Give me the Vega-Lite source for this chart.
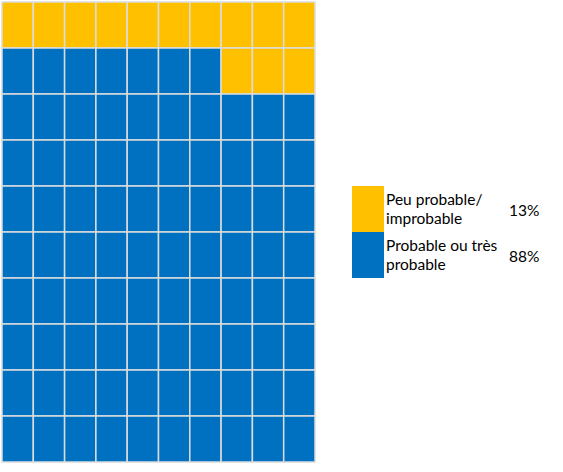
{
  "$schema": "https://vega.github.io/schema/vega-lite/v6.json",
  "padding": {"left": 1, "top": 1, "right": 0, "bottom": 0},
  "spacing": 36,
  "background": "white",
  "config": {"view": {"stroke": null}, "font": "Lato"},
  "datasets": {
    "cells": [
      {"c":1,"r":1,"k":"Peu"},{"c":2,"r":1,"k":"Peu"},{"c":3,"r":1,"k":"Peu"},{"c":4,"r":1,"k":"Peu"},{"c":5,"r":1,"k":"Peu"},{"c":6,"r":1,"k":"Peu"},{"c":7,"r":1,"k":"Peu"},{"c":8,"r":1,"k":"Peu"},{"c":9,"r":1,"k":"Peu"},{"c":10,"r":1,"k":"Peu"},
      {"c":1,"r":2,"k":"Prob"},{"c":2,"r":2,"k":"Prob"},{"c":3,"r":2,"k":"Prob"},{"c":4,"r":2,"k":"Prob"},{"c":5,"r":2,"k":"Prob"},{"c":6,"r":2,"k":"Prob"},{"c":7,"r":2,"k":"Prob"},{"c":8,"r":2,"k":"Peu"},{"c":9,"r":2,"k":"Peu"},{"c":10,"r":2,"k":"Peu"},
      {"c":1,"r":3,"k":"Prob"},{"c":2,"r":3,"k":"Prob"},{"c":3,"r":3,"k":"Prob"},{"c":4,"r":3,"k":"Prob"},{"c":5,"r":3,"k":"Prob"},{"c":6,"r":3,"k":"Prob"},{"c":7,"r":3,"k":"Prob"},{"c":8,"r":3,"k":"Prob"},{"c":9,"r":3,"k":"Prob"},{"c":10,"r":3,"k":"Prob"},
      {"c":1,"r":4,"k":"Prob"},{"c":2,"r":4,"k":"Prob"},{"c":3,"r":4,"k":"Prob"},{"c":4,"r":4,"k":"Prob"},{"c":5,"r":4,"k":"Prob"},{"c":6,"r":4,"k":"Prob"},{"c":7,"r":4,"k":"Prob"},{"c":8,"r":4,"k":"Prob"},{"c":9,"r":4,"k":"Prob"},{"c":10,"r":4,"k":"Prob"},
      {"c":1,"r":5,"k":"Prob"},{"c":2,"r":5,"k":"Prob"},{"c":3,"r":5,"k":"Prob"},{"c":4,"r":5,"k":"Prob"},{"c":5,"r":5,"k":"Prob"},{"c":6,"r":5,"k":"Prob"},{"c":7,"r":5,"k":"Prob"},{"c":8,"r":5,"k":"Prob"},{"c":9,"r":5,"k":"Prob"},{"c":10,"r":5,"k":"Prob"},
      {"c":1,"r":6,"k":"Prob"},{"c":2,"r":6,"k":"Prob"},{"c":3,"r":6,"k":"Prob"},{"c":4,"r":6,"k":"Prob"},{"c":5,"r":6,"k":"Prob"},{"c":6,"r":6,"k":"Prob"},{"c":7,"r":6,"k":"Prob"},{"c":8,"r":6,"k":"Prob"},{"c":9,"r":6,"k":"Prob"},{"c":10,"r":6,"k":"Prob"},
      {"c":1,"r":7,"k":"Prob"},{"c":2,"r":7,"k":"Prob"},{"c":3,"r":7,"k":"Prob"},{"c":4,"r":7,"k":"Prob"},{"c":5,"r":7,"k":"Prob"},{"c":6,"r":7,"k":"Prob"},{"c":7,"r":7,"k":"Prob"},{"c":8,"r":7,"k":"Prob"},{"c":9,"r":7,"k":"Prob"},{"c":10,"r":7,"k":"Prob"},
      {"c":1,"r":8,"k":"Prob"},{"c":2,"r":8,"k":"Prob"},{"c":3,"r":8,"k":"Prob"},{"c":4,"r":8,"k":"Prob"},{"c":5,"r":8,"k":"Prob"},{"c":6,"r":8,"k":"Prob"},{"c":7,"r":8,"k":"Prob"},{"c":8,"r":8,"k":"Prob"},{"c":9,"r":8,"k":"Prob"},{"c":10,"r":8,"k":"Prob"},
      {"c":1,"r":9,"k":"Prob"},{"c":2,"r":9,"k":"Prob"},{"c":3,"r":9,"k":"Prob"},{"c":4,"r":9,"k":"Prob"},{"c":5,"r":9,"k":"Prob"},{"c":6,"r":9,"k":"Prob"},{"c":7,"r":9,"k":"Prob"},{"c":8,"r":9,"k":"Prob"},{"c":9,"r":9,"k":"Prob"},{"c":10,"r":9,"k":"Prob"},
      {"c":1,"r":10,"k":"Prob"},{"c":2,"r":10,"k":"Prob"},{"c":3,"r":10,"k":"Prob"},{"c":4,"r":10,"k":"Prob"},{"c":5,"r":10,"k":"Prob"},{"c":6,"r":10,"k":"Prob"},{"c":7,"r":10,"k":"Prob"},{"c":8,"r":10,"k":"Prob"},{"c":9,"r":10,"k":"Prob"},{"c":10,"r":10,"k":"Prob"}
    ],
    "legend": [
      {"k": "Peu", "label": "Peu probable/\nimprobable", "pct": "13%"},
      {"k": "Prob", "label": "Probable ou très\nprobable", "pct": "88%"}
    ]
  },
  "hconcat": [
    {
      "width": 313,
      "height": 460,
      "data": {"name": "cells"},
      "mark": {"type": "rect", "stroke": "#dcdcdc", "strokeWidth": 1.5},
      "encoding": {
        "x": {"field": "c", "type": "ordinal", "axis": null, "scale": {"padding": 0}},
        "y": {"field": "r", "type": "ordinal", "axis": null, "scale": {"padding": 0}},
        "color": {"field": "k", "type": "nominal", "legend": null,
                  "scale": {"domain": ["Peu", "Prob"], "range": ["#FFC000", "#0070C0"]}}
      }
    },
    {
      "width": 212,
      "height": 460,
      "data": {"name": "legend"},
      "encoding": {
        "y": {"field": "k", "type": "nominal", "axis": null,
              "scale": {"domain": ["_1", "_2", "_3", "_4", "Peu", "Prob", "_5", "_6", "_7", "_8"], "padding": 0}}
      },
      "layer": [
        {
          "mark": {"type": "rect"},
          "encoding": {
            "x": {"value": 0},
            "x2": {"value": 32},
            "color": {"field": "k", "type": "nominal", "legend": null}
          }
        },
        {
          "mark": {"type": "text", "align": "left", "baseline": "middle", "lineBreak": "\n", "fontSize": 15.5, "lineHeight": 19.5, "dy": -9.5, "color": "#000000"},
          "encoding": {
            "x": {"value": 34},
            "text": {"field": "label"}
          }
        },
        {
          "mark": {"type": "text", "align": "left", "baseline": "middle", "fontSize": 15.5, "dy": 2, "color": "#000000"},
          "encoding": {
            "x": {"value": 157},
            "text": {"field": "pct"}
          }
        }
      ]
    }
  ]
}
